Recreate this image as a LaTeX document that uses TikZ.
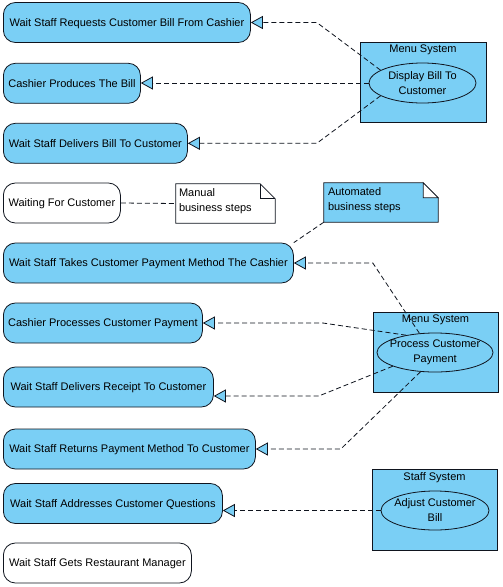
\documentclass[tikz,border=0pt]{standalone}
\usepackage{fontspec}
\setmainfont{Liberation Sans}
\usetikzlibrary{arrows.meta}
\usetikzlibrary{shapes.geometric}
\definecolor{ucblue}{RGB}{122,207,245}
\definecolor{ucline}{RGB}{15,20,30}
\tikzset{
 act/.style={draw=ucline, line width=0.8pt, rounded corners=12pt, minimum height=40pt, inner sep=0pt, text height=7.9pt, text depth=0pt, anchor=west},
 sysbox/.style={draw=ucline, line width=0.8pt, fill=ucblue, minimum width=125pt, minimum height=80pt, inner sep=0pt},
 systitle/.style={below, inner sep=3.3pt},
 uc/.style={draw=ucline, line width=0.8pt, fill=ucblue, ellipse, inner xsep=-14pt, inner ysep=-8pt, align=center},
 notebody/.style={minimum width=99pt, minimum height=39pt, inner sep=0pt},
 notetext/.style={anchor=north west, align=left, inner sep=0pt},
 dep/.style={draw=ucline, line width=0.8pt, dash pattern=on 5pt off 3pt, -{Triangle[fill=ucblue, length=12pt, width=13pt]}},
 notelink/.style={draw=ucline, line width=0.8pt, dash pattern=on 5pt off 3pt}
}
\begin{document}
\begin{tikzpicture}[x=1pt, y=-1pt, font=\fontsize{11}{15}\selectfont]
\useasboundingbox[fill=white] (0,0) rectangle (503,587);
\foreach \nm/\y/\w/\col/\txt in {req/22.5/247/ucblue/Wait Staff Requests Customer Bill From Cashier,
 cash/83.3/137/ucblue/Cashier Produces The Bill,
 deliv/143.3/184/ucblue/Wait Staff Delivers Bill To Customer,
 wait/203/117/white/Waiting For Customer,
 takes/263/290/ucblue/Wait Staff Takes Customer Payment Method The Cashier,
 proc/323/199/ucblue/Cashier Processes Customer Payment,
 rcpt/387/210/ucblue/Wait Staff  Delivers Receipt To Customer,
 ret/449/252/ucblue/Wait Staff Returns Payment Method To Customer,
 quest/503.5/219/ucblue/Wait Staff  Addresses Customer Questions,
 mgr/563/188/white/Wait Staff Gets Restaurant Manager} {
 \node[act, fill=\col, minimum width=\w pt] (\nm) at (3,\y) {\txt};
}
\node[sysbox, minimum width=126pt] (menuA) at (423,82) {};
\node[systitle] (menuAt) at (menuA.north) {Menu System};
\node[uc, minimum width=107pt, minimum height=40pt] (disp) at (422.5,83) {Display Bill To\\Customer};
\node[sysbox] (menuB) at (435.5,352) {};
\node[systitle] (menuBt) at (menuB.north) {Menu System};
\node[uc, minimum width=116pt, minimum height=39pt] (pay) at (435,352.5) {Process Customer\\Payment};
\node[sysbox, minimum height=81pt] (staff) at (434.5,509.5) {};
\node[systitle] (stafft) at (staff.north) {Staff System};
\node[uc, minimum width=108pt, minimum height=39pt] (adj) at (435,510.5) {Adjust Customer\\Bill};
\node[notebody] (man) at (225.5,203.5) {};
\filldraw[draw=ucline, line width=0.8pt, fill=white] (man.north west) -- ([xshift=-15pt]man.north east) -- ([yshift=-15pt]man.north east) -- (man.south east) -- (man.south west) -- cycle;
\draw[ucline, line width=0.8pt] ([xshift=-15pt]man.north east) -- ([xshift=-15pt,yshift=-15pt]man.north east) -- ([yshift=-15pt]man.north east);
\node[notetext] (mantxt) at ([xshift=3pt,yshift=-5pt]man.north west) {Manual\\business steps};
\node[notebody, minimum width=114pt] (auto) at (381,202.5) {};
\filldraw[draw=ucline, line width=0.8pt, fill=ucblue] (auto.north west) -- ([xshift=-15pt]auto.north east) -- ([yshift=-15pt]auto.north east) -- (auto.south east) -- (auto.south west) -- cycle;
\filldraw[draw=ucline, line width=0.8pt, fill=white] ([xshift=-15pt]auto.north east) -- ([xshift=-15pt,yshift=-15pt]auto.north east) -- ([yshift=-15pt]auto.north east) -- cycle;
\node[notetext] (autotxt) at ([xshift=4pt,yshift=-5pt]auto.north west) {Automated\\business steps};
\draw[dep] (disp.163) -- ([xshift=66pt]req.east) -- (req.east);
\draw[dep] (disp.west) -- (disp.west -| cash.east);
\draw[dep] (disp.197) -- ([xshift=129pt]deliv.east) -- (deliv.east);
\draw[notelink] (wait.east) -- (man.west);
\draw[notelink] (auto.south west) -- (takes.north east);
\draw[dep] (pay.129) -- ([xshift=79pt]takes.east) -- (takes.east);
\draw[dep] (pay.149) -- ([xshift=120pt]proc.east) -- (proc.east);
\draw[dep] (pay.198) -- ([xshift=105pt,yshift=-9pt]rcpt.east) -- ([yshift=-9pt]rcpt.east);
\draw[dep] (pay.233) -- ([xshift=85pt]ret.east) -- (ret.east);
\draw[dep] (adj.west) -- (adj.west -| quest.east);
\end{tikzpicture}
\end{document}
